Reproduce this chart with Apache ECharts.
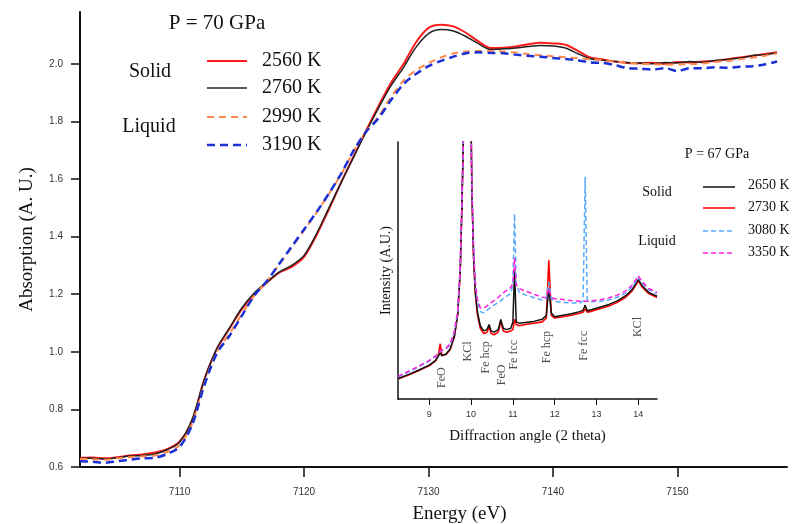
<!DOCTYPE html>
<html><head><meta charset="utf-8">
<script src="https://cdn.jsdelivr.net/npm/echarts@6/dist/echarts.min.js"></script>
<style>html,body{margin:0;padding:0;background:#fff}#c{width:807px;height:524px}</style>
</head><body><div id="c"></div>
<script>
// ---- Main chart (XANES, P = 70 GPa) ----
const energy = [7102,7103,7104,7105,7106,7107,7108,7109,7110,7111,7112,7113,7114,7115,7116,7117,7118,7119,7120,7121,7122,7123,7124,7125,7126,7127,7128,7129,7130,7131,7132,7133,7134,7135,7136,7137,7138,7139,7140,7141,7142,7143,7144,7145,7146,7147,7148,7149,7150,7151,7152,7153,7154,7155,7156,7157,7158];
const abs2560 = [0.632,0.633,0.630,0.634,0.640,0.643,0.650,0.662,0.688,0.760,0.905,1.010,1.080,1.148,1.200,1.240,1.275,1.295,1.330,1.405,1.495,1.590,1.680,1.770,1.855,1.935,2.000,2.075,2.125,2.136,2.130,2.108,2.078,2.055,2.056,2.060,2.068,2.073,2.071,2.066,2.045,2.022,2.015,2.008,2.003,2.002,2.004,2.000,2.006,2.005,2.008,2.010,2.016,2.022,2.028,2.034,2.040];
const abs2760 = [0.630,0.630,0.628,0.632,0.638,0.640,0.645,0.660,0.686,0.765,0.905,1.012,1.082,1.152,1.204,1.242,1.277,1.300,1.335,1.410,1.500,1.590,1.678,1.765,1.848,1.925,1.988,2.058,2.105,2.119,2.114,2.095,2.070,2.050,2.052,2.055,2.060,2.064,2.062,2.055,2.035,2.018,2.012,2.008,2.005,2.003,2.000,2.005,2.003,2.008,2.005,2.012,2.015,2.020,2.028,2.032,2.038];
const abs2990 = [0.628,0.627,0.625,0.630,0.634,0.637,0.640,0.652,0.676,0.750,0.890,1.000,1.062,1.130,1.195,1.245,1.303,1.362,1.422,1.483,1.548,1.618,1.698,1.765,1.818,1.885,1.942,1.978,2.003,2.022,2.036,2.043,2.045,2.044,2.043,2.039,2.034,2.030,2.026,2.023,2.020,2.016,2.012,2.008,2.004,2.000,1.999,1.997,1.998,1.999,2.001,2.006,2.010,2.016,2.021,2.028,2.036];
const abs3190 = [0.620,0.618,0.615,0.620,0.625,0.630,0.632,0.645,0.670,0.745,0.885,0.995,1.055,1.125,1.195,1.245,1.305,1.365,1.425,1.485,1.550,1.620,1.700,1.765,1.812,1.875,1.930,1.965,1.992,2.010,2.025,2.037,2.040,2.038,2.037,2.032,2.028,2.025,2.020,2.017,2.012,2.005,2.003,1.995,1.985,1.983,1.980,1.985,1.975,1.985,1.985,1.988,1.986,1.990,1.992,1.998,2.008];
const mainXTicks = [7110,7120,7130,7140,7150];
const mainYTicks = [0.6,0.8,1.0,1.2,1.4,1.6,1.8,2.0];

// ---- Inset (XRD, P = 67 GPa) ----
const angle = [8.25,8.5,8.75,9.0,9.15,9.22,9.26,9.3,9.4,9.5,9.6,9.68,9.74,9.78,9.82,9.9,9.98,10.02,10.06,10.1,10.15,10.22,10.3,10.38,10.43,10.48,10.55,10.65,10.71,10.77,10.85,10.95,11.0,11.04,11.08,11.15,11.3,11.5,11.7,11.8,11.86,11.92,12.0,12.2,12.4,12.6,12.68,12.73,12.78,12.9,13.1,13.3,13.5,13.7,13.85,13.95,14.0,14.1,14.25,14.45];
const int2650 = [8.0,9.5,11.3,13.2,15.0,16.8,18.0,16.8,17.5,19.5,24.5,33,50,75,105,160,130,80,55,42,34,28.5,26.5,27,29,26.5,26,27,31,27.5,27,27.5,30,50,30,29.5,29.8,30.2,31,32.5,43,33.5,32,32.6,33.2,34,34.5,36.5,34.3,34.8,35.8,36.8,38.2,40.2,42.5,45,46.5,44,41.5,40];
const int2730 = [7.8,9.3,11.1,13.0,14.8,17.5,21.5,17.0,17.3,19.3,24.3,33,50,75,105,160,130,80,55,41.5,33,27.5,25.5,26,28,25.5,25,26,30,26.5,26,26.5,27,31,29,28.5,29,29.5,30,31.5,54,32.5,31.5,32,32.6,33.4,33.8,35,33.8,34.2,35.2,36.2,37.6,39.6,42,44.5,46,43.5,41,39.5];
const int3080 = [8.6,10.5,12.5,14.8,16.5,17.5,18.5,18.5,19.5,21,26,34,51,76,106,160,130,82,58,45,38,34,33.5,34.5,35.2,35.8,36.5,37.5,38.2,39,40,41,45,72,45,41.5,40.5,39.5,38.5,39,45.5,39,38,37.6,37.4,37.3,38,86.5,38.5,37.8,38,38.6,39.6,41.2,43.5,46,47.5,45,42.5,41];
const int3350 = [8.8,10.8,12.8,15,16.8,17.8,18.6,18.8,19.8,21.5,26.5,34.5,51.5,77,107,160,130,82,58,46,39,35.5,35.3,36.2,36.8,37.5,38.3,39.6,40.5,41.3,42.3,43.4,45,55,44.5,43,42,40.8,39.6,39.5,43,39.5,39,38.7,38.3,38,38,38,38,38.2,38.6,39.4,40.4,42,44.2,46.6,48,45.5,43,41.5];
const insetXTicks = [9,10,11,12,13,14];
const peakNames = ['FeO','KCl','Fe hcp','FeO','Fe fcc','Fe hcp','Fe fcc','KCl'];
const peakAngles = [9.3,9.92,10.36,10.74,11.02,11.82,12.71,13.99];
const peakLabelY = [8.3,18.5,16.2,9.4,17.2,20.2,20.7,28];

const serif = '"Liberation Serif", "Times New Roman", serif';
const sans = '"Liberation Sans", Arial, sans-serif';
const pairs = (xs, ys) => xs.map((x, i) => [x, ys[i]]);

const chart = echarts.init(document.getElementById('c'), null, {renderer: 'canvas'});
const mainLine = (name, data, color, width, type) => ({
  name, type: 'line', xAxisIndex: 0, yAxisIndex: 0, data: pairs(energy, data),
  showSymbol: false, smooth: 0.3, z: 2,
  lineStyle: {color, width, type}
});
const insetLine = (name, data, color, width, type) => ({
  name, type: 'line', xAxisIndex: 1, yAxisIndex: 1, data: pairs(angle, data),
  showSymbol: false, smooth: false, clip: true, z: 5,
  lineStyle: {color, width, type}
});

// legend graphics
const g = [];
const legLine = (x1, x2, y, color, w, dash) => ({type: 'line', shape: {x1, y1: y, x2, y2: y}, style: {stroke: color, lineWidth: w, lineDash: dash}, z: 100});
const txt = (x, y, text, size, align) => ({type: 'text', x, y, style: {text, font: size + 'px ' + serif, fill: '#111', textAlign: align || 'left', textVerticalAlign: 'middle'}, z: 100});
g.push(txt(217, 23, 'P = 70 GPa', 21, 'center'));
g.push(txt(150, 72, 'Solid', 20, 'center'));
g.push(txt(149, 127, 'Liquid', 20, 'center'));
g.push(legLine(207, 247, 61, '#ff1a1a', 2, null));
g.push(legLine(207, 247, 88, '#222', 1.5, null));
g.push(legLine(207, 247, 117, '#ff8a4c', 2, [7, 5]));
g.push(legLine(207, 247, 145, '#1a2fd6', 2.5, [8, 5]));
g.push(txt(262, 61, '2560 K', 20));
g.push(txt(262, 88, '2760 K', 20));
g.push(txt(262, 117, '2990 K', 20));
g.push(txt(262, 145, '3190 K', 20));
// inset legend
g.push(txt(717, 154, 'P = 67 GPa', 14, 'center'));
g.push(txt(657, 192, 'Solid', 14, 'center'));
g.push(txt(657, 241, 'Liquid', 14, 'center'));
g.push(legLine(703, 735, 187, '#111', 1.5, null));
g.push(legLine(703, 735, 208, '#ff0000', 1.5, null));
g.push(legLine(703, 735, 231, '#55aaff', 1.5, [5, 3]));
g.push(legLine(703, 735, 253, '#ff22dd', 1.5, [5, 3]));
g.push(txt(748, 185, '2650 K', 14));
g.push(txt(748, 207, '2730 K', 14));
g.push(txt(748, 230, '3080 K', 14));
g.push(txt(748, 252, '3350 K', 14));

chart.setOption({
  animation: false,
  backgroundColor: '#fff',
  grid: [
    {left: 80, top: 12, right: 20, bottom: 57, containLabel: false, outerBoundsMode: 'none'},
    {left: 398, top: 142, right: 150, bottom: 125, containLabel: false, outerBoundsMode: 'none'}
  ],
  xAxis: [
    {type: 'value', gridIndex: 0, min: 7102, max: 7158.8,
     name: 'Energy (eV)', nameLocation: 'middle', nameGap: 38,
     nameTextStyle: {fontFamily: serif, fontSize: 19, color: '#111', padding: [0, 0, 0, 52]},
     axisLine: {lineStyle: {color: '#111', width: 2}},
     axisTick: {show: true, length: 10, lineStyle: {color: '#111', width: 1.5}, customValues: mainXTicks},
     axisLabel: {fontFamily: sans, fontSize: 10, color: '#333', margin: 20, customValues: mainXTicks,
       formatter: v => String(v)},
     splitLine: {show: false}},
    {type: 'value', gridIndex: 1, min: 8.25, max: 14.45,
     name: 'Diffraction angle (2 theta)', nameLocation: 'middle', nameGap: 30,
     nameTextStyle: {fontFamily: serif, fontSize: 15, color: '#111'},
     axisLine: {lineStyle: {color: '#111', width: 1.5}},
     axisTick: {show: true, length: 6, lineStyle: {color: '#111'}, customValues: insetXTicks},
     axisLabel: {fontFamily: sans, fontSize: 9, color: '#333', margin: 11, customValues: insetXTicks},
     splitLine: {show: false}}
  ],
  yAxis: [
    {type: 'value', gridIndex: 0, min: 0.6, max: 2.18,
     name: 'Absorption (A. U.)', nameLocation: 'middle', nameGap: 43, nameRotate: 90,
     nameTextStyle: {fontFamily: serif, fontSize: 19, color: '#111'},
     axisLine: {show: true, lineStyle: {color: '#111', width: 2}},
     axisTick: {show: true, length: 9, lineStyle: {color: '#111', width: 1.5}, customValues: mainYTicks},
     axisLabel: {fontFamily: sans, fontSize: 10, color: '#333', margin: 17, customValues: mainYTicks,
       formatter: v => v.toFixed(1)},
     splitLine: {show: false}},
    {type: 'value', gridIndex: 1, min: 0, max: 100,
     name: 'Intensity (A.U.)', nameLocation: 'middle', nameGap: 5, nameRotate: 90,
     nameTextStyle: {fontFamily: serif, fontSize: 14, color: '#111'},
     axisLine: {show: true, lineStyle: {color: '#111', width: 1.5}},
     axisTick: {show: false}, axisLabel: {show: false}, splitLine: {show: false}}
  ],
  series: [
    mainLine('2560 K', abs2560, '#ff1a1a', 2, 'solid'),
    mainLine('2760 K', abs2760, '#222', 1.5, 'solid'),
    mainLine('2990 K', abs2990, '#ff8a4c', 2, [7, 5]),
    mainLine('3190 K', abs3190, '#1a2fd6', 2.5, [8, 5]),
    insetLine('2730 K', int2730, '#ff0000', 1.6, 'solid'),
    insetLine('2650 K', int2650, '#111', 1.5, 'solid'),
    insetLine('3080 K', int3080, '#55aaff', 1.5, [5, 3]),
    insetLine('3350 K', int3350, '#ff22dd', 1.5, [5, 3]),
    {type: 'scatter', xAxisIndex: 1, yAxisIndex: 1, symbolSize: 0, z: 10,
     data: peakNames.map((n, i) => ({value: [peakAngles[i], peakLabelY[i]], name: n})),
     label: {show: true, position: 'inside', rotate: 90, formatter: p => p.name,
       fontFamily: serif, fontSize: 12, color: '#222'}}
  ],
  graphic: g
});
</script></body></html>
